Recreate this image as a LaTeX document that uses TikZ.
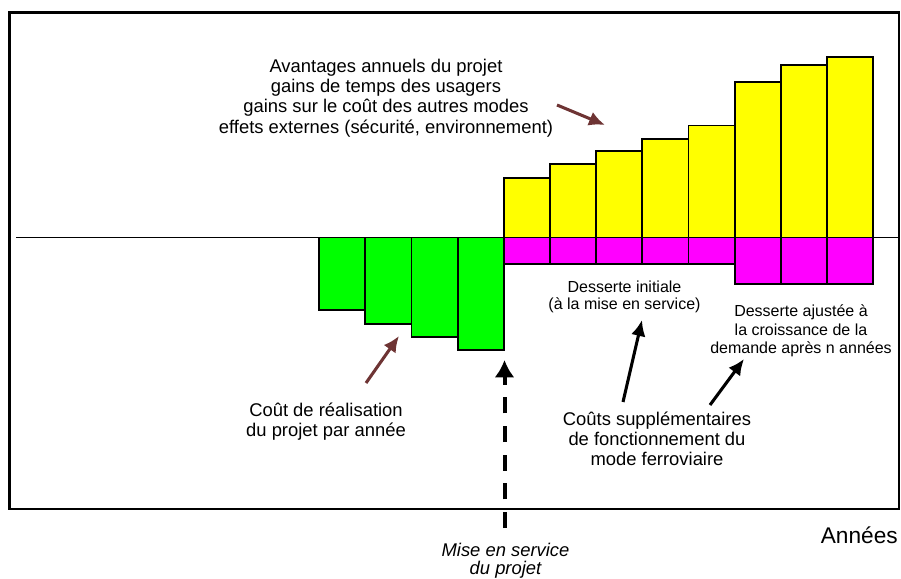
\documentclass[tikz,border=0pt]{standalone}
\usepackage{fontspec}
\setmainfont{Liberation Sans}
\usepackage{xcolor}
\usepackage{tikz}
\usetikzlibrary{arrows.meta, positioning}

\definecolor{vert}{RGB}{0,255,0}
\definecolor{jaune}{RGB}{255,255,0}
\definecolor{rose}{RGB}{255,0,255}
\definecolor{brun}{RGB}{110,52,52}

\tikzset{
    barre/.style={draw=black, line width=1.4pt},
    fleche/.style={-{Latex[length=12pt, width=11pt]}, line width=2.3pt},
    etiquette/.style={align=center, inner sep=0pt, font=\fontsize{13.8}{15}\selectfont},
}

\begin{document}
\begin{tikzpicture}[x=0.75pt, y=-0.75pt]
    \useasboundingbox (0,0) rectangle (901,579);
    % Cadre
    \draw[line width=1.8pt] (9.5,12.5) rectangle (899,509);

    % Axe des années
    \draw[line width=1.4pt] (16,237.5) -- (899,237.5);

    % Coût de réalisation (barres vertes)
    \foreach \i/\b in {0/310, 1/324, 2/337, 3/350}
        \draw[barre, fill=vert] ({319+46.25*\i},237.5) rectangle ({365.25+46.25*\i},\b);

    % Avantages (jaune) et coûts de fonctionnement (rose)
    \foreach \i/\h/\b in {0/178/264, 1/164/264, 2/151/264, 3/139/264, 4/125.5/264, 5/82/284, 6/65/284, 7/57/284} {
        \draw[barre, fill=jaune] ({504+46.125*\i},\h) rectangle ({550.125+46.125*\i},237.5);
        \draw[barre, fill=rose] ({504+46.125*\i},237.5) rectangle ({550.125+46.125*\i},\b);
    }

    % Textes
    \node[etiquette, font=\fontsize{13.8}{15.3}\selectfont] (avantages) at (386,98)
        {Avantages annuels du projet\\gains de temps des usagers\\gains sur le coût des autres modes\\effets externes (sécurité, environnement)};
    \node[etiquette, font=\fontsize{12}{13.2}\selectfont] (initiale) at (624.5,297)
        {Desserte initiale\\(à la mise en service)};
    \node[etiquette, font=\fontsize{12}{13.8}\selectfont] (ajustee) at (801,331)
        {Desserte ajustée à\\la croissance de la\\demande après n années};
    \node[etiquette] (realisation) at (326,422) {Coût de réalisation\\du projet par année};
    \node[etiquette] (fonctionnement) at (657,439)
        {Coûts supplémentaires\\de fonctionnement du\\mode ferroviaire};
    \node[etiquette, font=\fontsize{13.8}{13.5}\selectfont\itshape] (miseservice) at (505.5,561)
        {Mise en service\\du projet};
    \node[etiquette, anchor=east, font=\fontsize{17}{18}\selectfont] (annees) at (898,535) {Années};

    % Extrémités des flèches
    \coordinate (av-a) at (557,105);
    \coordinate (av-b) at (605,125);
    \coordinate (re-a) at (366,383);
    \coordinate (re-b) at (399,336);
    \coordinate (ms-a) at (504.5,528);
    \coordinate (ms-b) at (504.5,360);
    \coordinate (fi-a) at (623,402);
    \coordinate (fi-b) at (642,320);
    \coordinate (fa-a) at (710,405);
    \coordinate (fa-b) at (744,359);

    % Flèches
    \draw[fleche, brun] (av-a) -- (av-b);
    \draw[fleche, brun] (re-a) -- (re-b);
    \draw[fleche] (fi-a) -- (fi-b);
    \draw[fleche] (fa-a) -- (fa-b);
    \draw[-{Latex[length=13pt, width=15pt]}, line width=3pt, dash pattern=on 12pt off 9.5pt] (ms-a) -- (ms-b);
\end{tikzpicture}
\end{document}
